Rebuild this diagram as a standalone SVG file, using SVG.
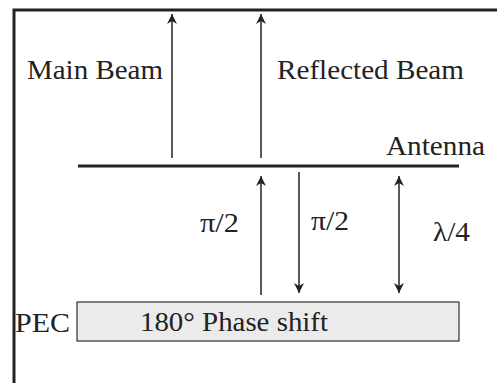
<svg xmlns="http://www.w3.org/2000/svg" width="497" height="383" viewBox="0 0 497 383">
<style>
text{font-family:"Liberation Serif","Times New Roman",serif;font-size:28px;fill:#222}
.ln{stroke:#222;stroke-width:1.5;fill:none}
</style>
<defs>
<marker id="ah" viewBox="0 0 10 12" refX="10" refY="6" markerWidth="10" markerHeight="12" markerUnits="userSpaceOnUse" orient="auto-start-reverse">
<path d="M0,1 L10,6 L0,11 L3,6 Z" fill="#222"/>
</marker>
</defs>
<rect width="497" height="383" fill="#fff"/>
<g id="frame">
<path d="M14,383 L14,10 L497,10" stroke="#222" stroke-width="3" fill="none"/>
</g>
<g id="antenna">
<line x1="78" y1="166" x2="459" y2="166" stroke="#222" stroke-width="3"/>
<text x="386" y="155" textLength="99" lengthAdjust="spacingAndGlyphs">Antenna</text>
</g>
<g id="pec">
<rect x="77" y="302" width="382" height="39" fill="#ebebeb" stroke="#333" stroke-width="1.2"/>
<text x="15" y="332" textLength="55" lengthAdjust="spacingAndGlyphs">PEC</text>
<text x="140" y="331" textLength="188" lengthAdjust="spacingAndGlyphs">180° Phase shift</text>
</g>
<g id="labels">
<text x="27" y="79" textLength="136" lengthAdjust="spacingAndGlyphs">Main Beam</text>
<text x="277" y="79" textLength="187" lengthAdjust="spacingAndGlyphs">Reflected Beam</text>
<text x="200" y="232" textLength="39" lengthAdjust="spacingAndGlyphs">π/2</text>
<text x="311" y="230" textLength="38" lengthAdjust="spacingAndGlyphs">π/2</text>
<text x="433" y="241" textLength="37" lengthAdjust="spacingAndGlyphs">λ/4</text>
</g>
<g id="connectors">
<line class="ln" x1="172" y1="158" x2="172" y2="14" marker-end="url(#ah)"/>
<line class="ln" x1="261" y1="158" x2="261" y2="14" marker-end="url(#ah)"/>
<line class="ln" x1="261" y1="295" x2="261" y2="176" marker-end="url(#ah)"/>
<line class="ln" x1="299" y1="172" x2="299" y2="293" marker-end="url(#ah)"/>
<line class="ln" x1="399" y1="176" x2="399" y2="293" marker-start="url(#ah)" marker-end="url(#ah)"/>
</g>
</svg>
